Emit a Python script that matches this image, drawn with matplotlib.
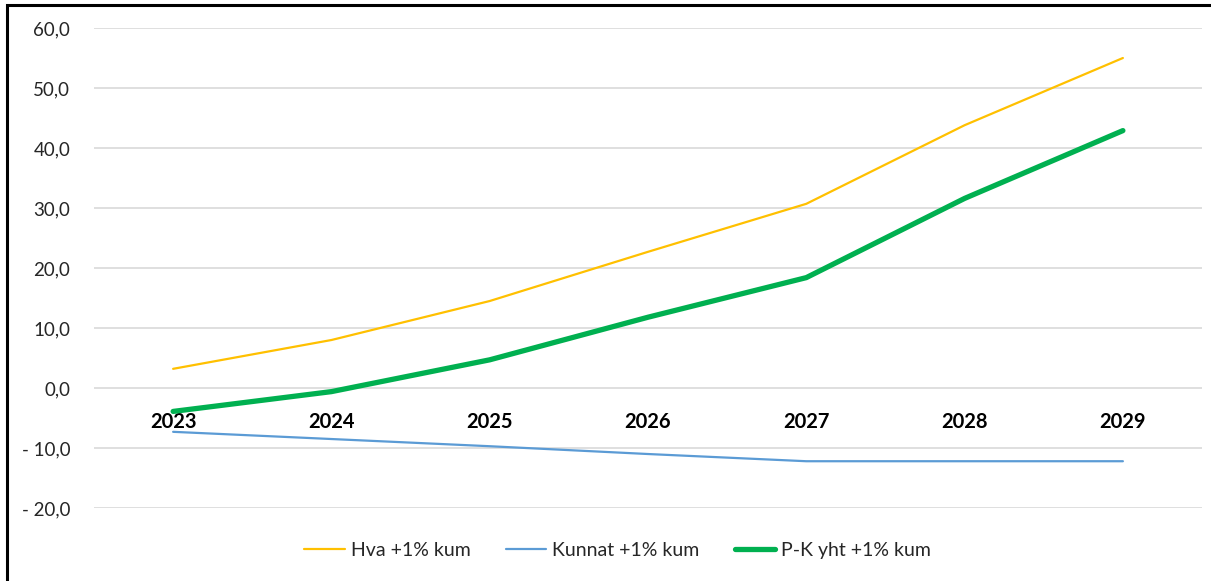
import matplotlib.pyplot as plt
import matplotlib as mpl
from matplotlib.patches import Rectangle

years = ['2023', '2024', '2025', '2026', '2027', '2028', '2029']
hva = [3.2, 8.0, 14.5, 22.7, 30.7, 43.8, 55.0]
kunnat = [-7.3, -8.5, -9.7, -11.0, -12.2, -12.2, -12.2]
pk_yht = [-3.9, -0.6, 4.7, 11.8, 18.4, 31.6, 42.9]
labels = ['Hva +1% kum', 'Kunnat +1% kum', 'P-K yht +1% kum']
yticks = [-20, -10, 0, 10, 20, 30, 40, 50, 60]

mpl.rcParams['font.family'] = ['Lato', 'DejaVu Sans']

fig = plt.figure(figsize=(12.11, 5.81), dpi=100)
ax = fig.add_axes([0.0776, 0.1256, 0.915, 0.8262])

# category axis crosses at zero, like the spreadsheet chart
ax.spines['bottom'].set_position(('data', 0))
for s in ax.spines.values():
    s.set_visible(False)

x = range(len(years))
ax.plot(x, hva, color='#FFC000', lw=1.6, label=labels[0], solid_capstyle='round')
ax.plot(x, kunnat, color='#5B9BD5', lw=1.6, label=labels[1], solid_capstyle='round')
ax.plot(x, pk_yht, color='#00B050', lw=3.8, label=labels[2], solid_capstyle='round')

ax.set_xlim(-0.5, len(years) - 0.5)
ax.set_ylim(-20, 60)
ax.set_yticks(yticks)
ax.set_yticklabels([f'{v:.1f}'.replace('.', ',') if v >= 0
                    else '- ' + f'{-v:.1f}'.replace('.', ',') for v in yticks],
                   fontsize=13.5, color='#262626')
ax.grid(axis='y', color='#D9D9D9', lw=1.2)
ax.set_axisbelow(True)

ax.set_xticks(list(x))
ax.set_xticklabels(years, fontsize=14.5, fontweight='bold', color='black')
ax.tick_params(axis='x', length=0, pad=17)
ax.tick_params(axis='y', length=0, pad=17)

fig.legend(loc='center', bbox_to_anchor=(0.51, 0.052), ncol=3, frameon=False,
           fontsize=14, handlelength=2.1, handletextpad=0.3, columnspacing=1.8,
           labelcolor='#262626')

fig.patches.append(Rectangle((7 / 1211, -0.1), 1.2, (581 - 5) / 581 + 0.1,
                             transform=fig.transFigure, fill=False,
                             edgecolor='black', lw=2.2))

fig.savefig('out.png', dpi=100)
